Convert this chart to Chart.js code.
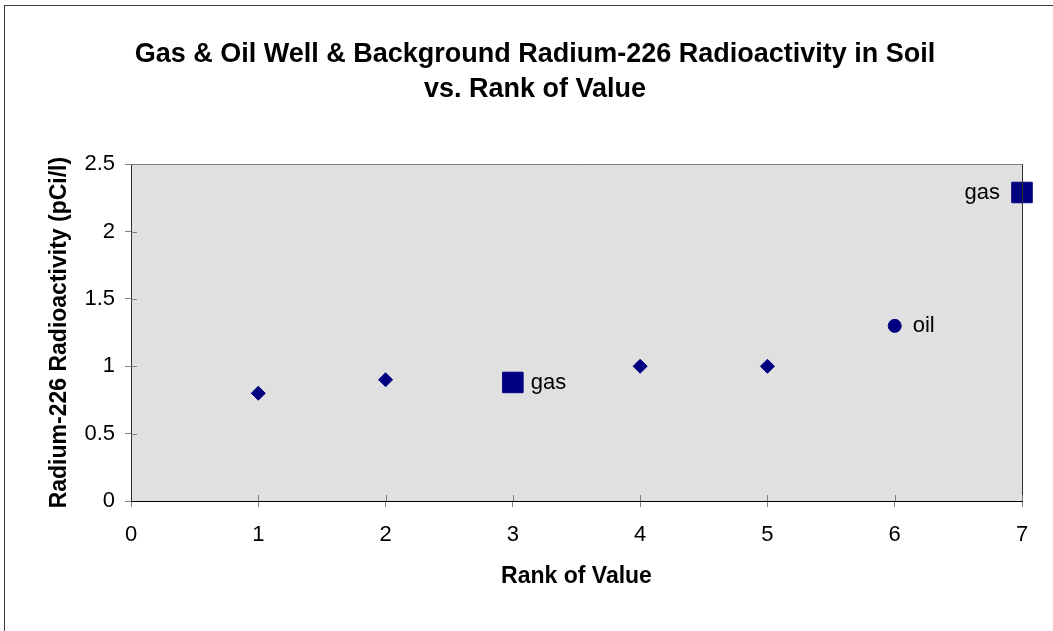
<!DOCTYPE html>
<html>
<head>
<meta charset="utf-8">
<script src="https://cdn.jsdelivr.net/npm/chart.js@4.4.1/dist/chart.umd.min.js"></script>
<style>
  html, body { margin: 0; padding: 0; background: #fff; }
  canvas { display: block; }
</style>
</head>
<body>
<canvas id="chart" width="1053" height="631"></canvas>
<script>
// chart text
const titleLines = ['Gas & Oil Well & Background Radium-226 Radioactivity in Soil', 'vs. Rank of Value'];
const xTitle = 'Rank of Value';
const yTitle = 'Radium-226 Radioactivity (pCi/l)';

// background samples (diamonds)
const bgRank = [1, 2, 4, 5];
const bgValue = [0.8, 0.9, 1.0, 1.0];

// gas wells (squares)
const gasRank = [3, 7];
const gasValue = [0.88, 2.29];
const gasLabels = ['gas', 'gas'];

// oil well (circle)
const oilRank = [6];
const oilValue = [1.3];
const oilLabels = ['oil'];

// axes
const xMin = 0, xMax = 7, xStep = 1;
const yMin = 0, yMax = 2.5, yStep = 0.5;

const NAVY = '#000080';
const FONT = '"Liberation Sans", Arial, sans-serif';

function toPoints(xs, ys) {
  return xs.map((x, i) => ({ x: x, y: ys[i] }));
}

// plot background, frame, tick marks crossing the axes, outer border
const framePlugin = {
  id: 'frame',
  beforeDraw(chart) {
    const { ctx, chartArea: a } = chart;
    ctx.save();
    ctx.fillStyle = '#e0e0e0';
    ctx.fillRect(a.left, a.top, a.right - a.left, a.bottom - a.top);
    ctx.restore();
  },
  afterDraw(chart) {
    const { ctx, chartArea: a, scales } = chart;
    ctx.save();
    ctx.lineWidth = 1;
    // top and right edges of the plot
    ctx.strokeStyle = '#808080';
    ctx.beginPath();
    ctx.moveTo(a.left, Math.round(a.top) + 0.5);
    ctx.lineTo(a.right, Math.round(a.top) + 0.5);
    ctx.stroke();
    ctx.strokeStyle = '#303030';
    ctx.beginPath();
    ctx.moveTo(Math.round(a.right) + 0.5, a.top);
    ctx.lineTo(Math.round(a.right) + 0.5, a.bottom);
    ctx.stroke();
    // inner halves of the tick marks
    ctx.strokeStyle = '#808080';
    ctx.beginPath();
    scales.x.ticks.forEach(t => {
      if (t.value === xMin) return;
      const px = Math.round(scales.x.getPixelForValue(t.value)) + 0.5;
      ctx.moveTo(px, a.bottom);
      ctx.lineTo(px, a.bottom - 6);
    });
    scales.y.ticks.forEach(t => {
      if (t.value === yMin) return;
      const py = Math.round(scales.y.getPixelForValue(t.value)) + 0.5;
      ctx.moveTo(a.left, py);
      ctx.lineTo(a.left + 6, py);
    });
    ctx.stroke();
    // outer chart border (only top / left fall inside the picture)
    ctx.strokeStyle = '#404040';
    ctx.strokeRect(4.5, 5.5, 2000, 2000);
    ctx.restore();
  }
};

// text labels next to the well points
const pointLabelPlugin = {
  id: 'pointLabels',
  afterDatasetsDraw(chart) {
    const { ctx } = chart;
    ctx.save();
    ctx.font = '22px ' + FONT;
    ctx.fillStyle = '#000';
    ctx.textBaseline = 'middle';
    chart.data.datasets.forEach((ds, di) => {
      if (!ds.pointLabels) return;
      const meta = chart.getDatasetMeta(di);
      meta.data.forEach((el, i) => {
        const side = ds.labelSide[i];
        ctx.textAlign = side === 'left' ? 'right' : 'left';
        const dx = side === 'left' ? -22 : 18;
        ctx.fillText(ds.pointLabels[i], el.x + dx, el.y);
      });
    });
    ctx.restore();
  }
};

new Chart(document.getElementById('chart'), {
  type: 'scatter',
  data: {
    datasets: [
      {
        label: 'Background',
        data: toPoints(bgRank, bgValue),
        pointStyle: 'rectRot',
        pointRadius: 7,
        backgroundColor: NAVY,
        borderColor: NAVY,
        borderWidth: 1,
        clip: false
      },
      {
        label: 'Gas well',
        data: toPoints(gasRank, gasValue),
        pointStyle: 'rect',
        pointRadius: 14.5,
        backgroundColor: NAVY,
        borderColor: NAVY,
        borderWidth: 1,
        clip: false,
        pointLabels: gasLabels,
        labelSide: ['right', 'left']
      },
      {
        label: 'Oil well',
        data: toPoints(oilRank, oilValue),
        pointStyle: 'circle',
        pointRadius: 6.5,
        backgroundColor: NAVY,
        borderColor: NAVY,
        borderWidth: 1,
        clip: false,
        pointLabels: oilLabels,
        labelSide: ['right']
      }
    ]
  },
  options: {
    responsive: false,
    animation: false,
    devicePixelRatio: 1,
    layout: { padding: { left: 48, right: 31, top: 0, bottom: 0 } },
    plugins: {
      legend: { display: false },
      tooltip: { enabled: false },
      title: {
        display: true,
        text: titleLines,
        color: '#000',
        font: { family: FONT, size: 27, weight: 'bold', lineHeight: 1.3 },
        padding: { top: 37, bottom: 57 }
      }
    },
    scales: {
      x: {
        type: 'linear',
        min: xMin,
        max: xMax,
        afterFit(scale) { scale.height = 130; },
        border: { display: true, color: '#000', width: 1 },
        grid: { display: true, drawOnChartArea: false, drawTicks: true, tickLength: 6, color: '#808080' },
        ticks: {
          stepSize: xStep,
          color: '#000',
          padding: 15,
          font: { family: FONT, size: 22 },
          callback: v => String(v)
        },
        title: {
          display: true,
          text: xTitle,
          color: '#000',
          font: { family: FONT, size: 23, weight: 'bold', lineHeight: 1.2 },
          padding: { top: 0, bottom: 41 }
        }
      },
      y: {
        type: 'linear',
        min: yMin,
        max: yMax,
        afterFit(scale) { scale.width = 83; },
        border: { display: true, color: '#303030', width: 1 },
        grid: { display: true, drawOnChartArea: false, drawTicks: true, tickLength: 6, color: '#808080' },
        ticks: {
          stepSize: yStep,
          color: '#000',
          padding: 10,
          font: { family: FONT, size: 22 },
          callback: v => String(v)
        },
        title: {
          display: true,
          text: yTitle,
          color: '#000',
          font: { family: FONT, size: 23, weight: 'bold', lineHeight: 1.0 },
          padding: { top: 0, bottom: 0 }
        }
      }
    }
  },
  plugins: [framePlugin, pointLabelPlugin]
});
</script>
</body>
</html>
